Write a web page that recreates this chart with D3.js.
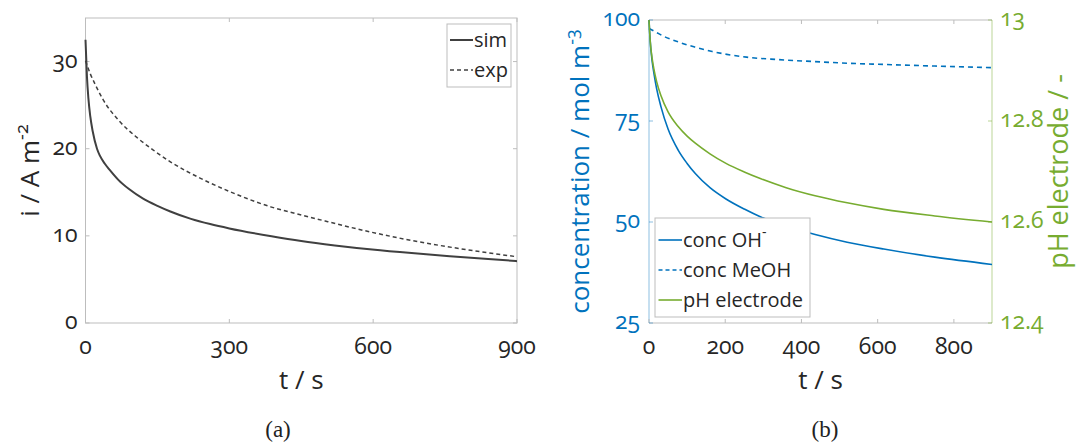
<!DOCTYPE html>
<html>
<head>
<meta charset="utf-8">
<script src="https://cdn.jsdelivr.net/npm/d3@7"></script>
<style>
  body { margin: 0; background: #fff; }
  svg text { font-family: "Open Sans", sans-serif; font-feature-settings: "onum"; }
  .cap { font-family: "Liberation Serif", "DejaVu Serif", serif; font-feature-settings: normal; }
</style>
</head>
<body>
<div id="chart"></div>
<script>
// ---- panel (a): current density vs time ----
var simT = [0, 3, 6, 10, 15, 24, 30, 40, 50, 69, 90, 121, 150, 177, 220, 260, 300, 388, 450, 520, 598, 680, 760, 840, 900];
var simI = [32.5, 28.3, 25.8, 23.7, 22.0, 20.0, 19.2, 18.3, 17.6, 16.4, 15.4, 14.25, 13.45, 12.8, 11.95, 11.35, 10.85, 9.95, 9.4, 8.9, 8.43, 8.02, 7.67, 7.34, 7.1];
var expT = [0, 10, 20, 37, 70, 107, 140, 177, 240, 300, 388, 450, 500, 598, 668, 739, 809, 900];
var expI = [30.1, 28.6, 27.4, 25.6, 23.2, 21.3, 19.9, 18.5, 16.6, 15.1, 13.3, 12.4, 11.7, 10.4, 9.6, 8.9, 8.3, 7.6];
var aXTicks = [0, 300, 600, 900];
var aYTicks = [0, 10, 20, 30];

// ---- panel (b): concentrations and pH vs time ----
var ohT = [0, 3, 8, 13.5, 20, 31.5, 50, 76.5, 100, 121.5, 160, 202, 250, 292, 360, 436, 520, 616, 750, 900];
var ohC = [100, 95, 90, 86.5, 83, 78.5, 73, 67.8, 64.5, 62, 58.5, 55.7, 53.2, 51.3, 49, 46.9, 45, 43.3, 41.3, 39.5];
var meohT = [0, 20, 40, 76, 120, 166, 256, 340, 436, 520, 616, 750, 900];
var meohC = [97.9, 96.9, 95.9, 94.6, 93.3, 92.2, 90.8, 90.2, 89.7, 89.3, 89.0, 88.6, 88.2];
var phT = [0, 3, 8, 13.5, 20, 31.5, 50, 76.5, 100, 121.5, 160, 202, 250, 292, 360, 436, 520, 616, 750, 900];
var phV = [13.0, 12.96, 12.925, 12.9, 12.878, 12.85, 12.818, 12.789, 12.770, 12.756, 12.735, 12.716, 12.699, 12.686, 12.668, 12.652, 12.638, 12.625, 12.612, 12.600];
var bXTicks = [0, 200, 400, 600, 800];
var bYLTicks = [25, 50, 75, 100];
var bYRTicks = [12.4, 12.6, 12.8, 13];

var blue = "#0072BD", green = "#77AC30", ink = "#262626", frame = "#bdbdbd";

var svg = d3.select("#chart").append("svg")
  .attr("width", 1079).attr("height", 444);
svg.append("rect").attr("width", 1079).attr("height", 444).attr("fill", "#fff");

var tickFont = 23, labelFont = 26, tickLen = 4;

// ================= panel a =================
var xa = d3.scaleLinear().domain([0, 900]).range([85.5, 517]);
var ya = d3.scaleLinear().domain([0, 35]).range([323, 18]);
var ga = svg.append("g");

ga.append("rect")
  .attr("x", xa(0)).attr("y", ya(35))
  .attr("width", xa(900) - xa(0)).attr("height", ya(0) - ya(35))
  .attr("fill", "none").attr("stroke", frame).attr("stroke-width", 1);

aXTicks.forEach(function(t){
  ga.append("line").attr("x1", xa(t)).attr("x2", xa(t)).attr("y1", ya(0)).attr("y2", ya(0) - tickLen).attr("stroke", frame);
  ga.append("line").attr("x1", xa(t)).attr("x2", xa(t)).attr("y1", ya(35)).attr("y2", ya(35) + tickLen).attr("stroke", frame);
  ga.append("text").attr("x", xa(t)).attr("y", 354).attr("text-anchor", "middle")
    .attr("font-size", tickFont).attr("fill", ink).text(t);
});
aYTicks.forEach(function(v){
  ga.append("line").attr("x1", xa(0)).attr("x2", xa(0) + tickLen).attr("y1", ya(v)).attr("y2", ya(v)).attr("stroke", frame);
  ga.append("line").attr("x1", xa(900)).attr("x2", xa(900) - tickLen).attr("y1", ya(v)).attr("y2", ya(v)).attr("stroke", frame);
  ga.append("text").attr("x", xa(0) - 8).attr("y", ya(v) + 6).attr("text-anchor", "end")
    .attr("font-size", tickFont).attr("fill", ink).text(v);
});

var lineA = d3.line().x(function(d){ return xa(d[0]); }).y(function(d){ return ya(d[1]); }).curve(d3.curveMonotoneX);
ga.append("path").datum(expT.map(function(t, i){ return [t, expI[i]]; }))
  .attr("d", lineA).attr("fill", "none").attr("stroke", "#404040").attr("stroke-width", 1.5)
  .attr("stroke-dasharray", "4,3");
ga.append("path").datum(simT.map(function(t, i){ return [t, simI[i]]; }))
  .attr("d", lineA).attr("fill", "none").attr("stroke", "#404040").attr("stroke-width", 2);

ga.append("text").attr("x", (xa(0) + xa(900)) / 2).attr("y", 389).attr("text-anchor", "middle")
  .attr("font-size", labelFont).attr("fill", ink).text("t / s");

var yla = ga.append("text").attr("transform", "translate(39," + ((ya(0) + ya(35)) / 2) + ") rotate(-90)")
  .attr("text-anchor", "middle").attr("font-size", labelFont).attr("fill", ink);
yla.append("tspan").text("i / A m");
yla.append("tspan").attr("dy", -11).attr("font-size", 18).text("-2");

// legend a
var lgA = ga.append("g");
lgA.append("rect").attr("x", 447).attr("y", 24).attr("width", 64).attr("height", 63)
  .attr("fill", "#fff").attr("stroke", frame);
[["sim", null, 2, 40], ["exp", "4,3", 1.5, 70]].forEach(function(e){
  lgA.append("line").attr("x1", 450).attr("x2", 473).attr("y1", e[3]).attr("y2", e[3])
    .attr("stroke", "#404040").attr("stroke-width", e[2]).attr("stroke-dasharray", e[1]);
  lgA.append("text").attr("x", 474).attr("y", e[3] + 7).attr("font-size", 20).attr("fill", ink).text(e[0]);
});

svg.append("text").attr("class", "cap").attr("x", 278).attr("y", 437).attr("text-anchor", "middle")
  .attr("font-size", 23).attr("fill", "#222").text("(a)");

// ================= panel b =================
var xb = d3.scaleLinear().domain([0, 900]).range([649, 992]);
var ybl = d3.scaleLinear().domain([25, 100]).range([323, 20]);
var ybr = d3.scaleLinear().domain([12.4, 13]).range([323, 20]);
var gb = svg.append("g");

// top and bottom frame
gb.append("line").attr("x1", xb(0)).attr("x2", xb(900)).attr("y1", 20).attr("y2", 20).attr("stroke", frame);
gb.append("line").attr("x1", xb(0)).attr("x2", xb(900)).attr("y1", 323).attr("y2", 323).attr("stroke", frame);
gb.append("line").attr("x1", xb(0)).attr("x2", xb(0)).attr("y1", 20).attr("y2", 323).attr("stroke", blue).attr("stroke-opacity", 0.45);
gb.append("line").attr("x1", xb(900)).attr("x2", xb(900)).attr("y1", 20).attr("y2", 323).attr("stroke", green).attr("stroke-opacity", 0.5);

bXTicks.forEach(function(t){
  gb.append("line").attr("x1", xb(t)).attr("x2", xb(t)).attr("y1", 323).attr("y2", 323 - tickLen).attr("stroke", frame);
  gb.append("line").attr("x1", xb(t)).attr("x2", xb(t)).attr("y1", 20).attr("y2", 20 + tickLen).attr("stroke", frame);
  gb.append("text").attr("x", xb(t)).attr("y", 354).attr("text-anchor", "middle")
    .attr("font-size", tickFont).attr("fill", ink).text(t);
});
bYLTicks.forEach(function(v){
  gb.append("line").attr("x1", xb(0)).attr("x2", xb(0) + tickLen).attr("y1", ybl(v)).attr("y2", ybl(v)).attr("stroke", blue).attr("stroke-opacity", 0.45);
  gb.append("text").attr("x", xb(0) - 9).attr("y", ybl(v) + 6).attr("text-anchor", "end")
    .attr("font-size", tickFont).attr("fill", blue).text(v);
});
bYRTicks.forEach(function(v){
  gb.append("line").attr("x1", xb(900)).attr("x2", xb(900) - tickLen).attr("y1", ybr(v)).attr("y2", ybr(v)).attr("stroke", green).attr("stroke-opacity", 0.5);
  gb.append("text").attr("x", xb(900) + 8).attr("y", ybr(v) + 6).attr("text-anchor", "start")
    .attr("font-size", tickFont).attr("fill", green).text(d3.format("~g")(v));
});

var lineL = d3.line().x(function(d){ return xb(d[0]); }).y(function(d){ return ybl(d[1]); }).curve(d3.curveMonotoneX);
var lineR = d3.line().x(function(d){ return xb(d[0]); }).y(function(d){ return ybr(d[1]); }).curve(d3.curveMonotoneX);

gb.append("path").datum(meohT.map(function(t, i){ return [t, meohC[i]]; }))
  .attr("d", lineL).attr("fill", "none").attr("stroke", blue).attr("stroke-width", 1.6).attr("stroke-dasharray", "5,4");
gb.append("path").datum(ohT.map(function(t, i){ return [t, ohC[i]]; }))
  .attr("d", lineL).attr("fill", "none").attr("stroke", blue).attr("stroke-width", 1.6);
gb.append("path").datum(phT.map(function(t, i){ return [t, phV[i]]; }))
  .attr("d", lineR).attr("fill", "none").attr("stroke", green).attr("stroke-width", 1.6);

gb.append("text").attr("x", (xb(0) + xb(900)) / 2).attr("y", 389).attr("text-anchor", "middle")
  .attr("font-size", labelFont).attr("fill", ink).text("t / s");

var ylb = gb.append("text").attr("transform", "translate(589," + ((20 + 323) / 2) + ") rotate(-90)")
  .attr("text-anchor", "middle").attr("font-size", labelFont).attr("fill", blue);
ylb.append("tspan").text("concentration / mol m");
ylb.append("tspan").attr("dy", -11).attr("font-size", 18).text("-3");

gb.append("text").attr("transform", "translate(1068," + ((20 + 323) / 2) + ") rotate(-90)")
  .attr("text-anchor", "middle").attr("font-size", labelFont + 1).attr("fill", green).text("pH electrode / -");

// legend b
var lgB = gb.append("g");
lgB.append("rect").attr("x", 655).attr("y", 218).attr("width", 155).attr("height", 99)
  .attr("fill", "#fff").attr("stroke", frame);
var legB = [
  {label: "conc OH", sup: "-", color: blue, dash: null, y: 240},
  {label: "conc MeOH", sup: null, color: blue, dash: "4,3", y: 270},
  {label: "pH electrode", sup: null, color: green, dash: null, y: 300}
];
legB.forEach(function(e){
  lgB.append("line").attr("x1", 658.5).attr("x2", 682).attr("y1", e.y).attr("y2", e.y)
    .attr("stroke", e.color).attr("stroke-width", 1.6).attr("stroke-dasharray", e.dash);
  var t = lgB.append("text").attr("x", 683).attr("y", e.y + 7).attr("font-size", 20).attr("fill", ink);
  t.append("tspan").text(e.label);
  if (e.sup) t.append("tspan").attr("dy", -10).attr("font-size", 14).text(e.sup);
});

svg.append("text").attr("class", "cap").attr("x", 825).attr("y", 437).attr("text-anchor", "middle")
  .attr("font-size", 23).attr("fill", "#222").text("(b)");
</script>
</body>
</html>
